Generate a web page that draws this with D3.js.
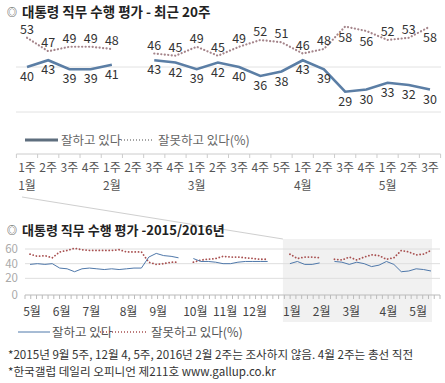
<!DOCTYPE html>
<html>
<head>
<meta charset="utf-8">
<title>대통령 직무 수행 평가</title>
<script src="https://cdn.jsdelivr.net/npm/d3@7"></script>
<style>
  body { margin: 0; background: #fff; }
  svg text { font-family: "Noto Sans CJK KR", "Noto Sans", sans-serif; }
</style>
</head>
<body>
<svg id="chart" width="445" height="383"></svg>
<script>
// ---- data: recent 20 weeks (2016) ----
const weekLabels = ['1주','2주','3주','4주','1주','2주','3주','4주','1주','2주','3주','4주','5주','1주','2주','3주','4주','1주','2주','3주'];
const monthLabels = [{i: 0, t: '1월'}, {i: 4, t: '2월'}, {i: 8, t: '3월'}, {i: 13, t: '4월'}, {i: 17, t: '5월'}];
const goodRecent = [40, 43, 39, 39, 41, null, 43, 42, 39, 42, 40, 36, 38, 43, 39, 29, 30, 33, 32, 30];
const badRecent  = [53, 47, 49, 49, 48, null, 46, 45, 49, 45, 49, 52, 51, 46, 48, 58, 56, 52, 53, 58];

// ---- data: weekly 2015/05 - 2016/05 (55 weeks) ----
const good2015 = [39, 40, 39, 40, 34, 33, 29, 33, 34, 33, 32, 33, 32, 33, 34, 34, 49, 54, 51, 50, 48, null,
                  47, 43, 43, 42, 40, 40, 42, 43, 43, 43, 43, null, null];
const bad2015  = [53, 50, 51, 48, 56, 58, 61, 59, 58, 58, 58, 58, 59, 56, 56, 56, 42, 39, 40, 42, 42, null,
                  42, 45, 46, 47, 50, 49, 49, 48, 47, 46, 46, null, null];
const goodAll = good2015.concat(goodRecent);
const badAll = bad2015.concat(badRecent);
const longMonths = [{i: 0, t: '5월'}, {i: 4, t: '6월'}, {i: 8, t: '7월'}, {i: 13, t: '8월'}, {i: 17, t: '9월'},
                    {i: 22, t: '10월'}, {i: 26, t: '11월'}, {i: 30, t: '12월'}, {i: 35, t: '1월'}, {i: 39, t: '2월'},
                    {i: 43, t: '3월'}, {i: 48, t: '4월'}, {i: 52, t: '5월'}];
const yTicksLong = [0, 20, 40, 60];

const notes = ['*2015년 9월 5주, 12월 4, 5주, 2016년 2월 2주는 조사하지 않음. 4월 2주는 총선 직전',
               '*한국갤럽 데일리 오피니언 제211호 www.gallup.co.kr'];

const svg = d3.select('#chart');
const goodColor = '#5b7ea5', badColor = '#a5858b';

// ================= top chart =================
svg.append('text').attr('x', 7).attr('y', 16).attr('font-size', 10).attr('fill', '#333').text('◎');
svg.append('text').attr('x', 22).attr('y', 17).attr('font-size', 13.5).attr('font-weight', 'bold')
  .attr('fill', '#222').text('대통령 직무 수행 평가 - 최근 20주');

const x = d3.scaleBand().domain(d3.range(20)).range([16.4, 440.6]);
const cx = i => x(i) + x.bandwidth() / 2;
const y = d3.scaleLinear().domain([20, 60]).range([112, 22]);

svg.append('g').selectAll('line').data([20, 40]).join('line')
  .attr('x1', 16).attr('x2', 441).attr('y1', d => y(d)).attr('y2', d => y(d))
  .attr('stroke', '#e2e2e2');

const lineTop = d3.line().defined(d => d != null).x((d, i) => cx(i)).y(d => y(d));

svg.append('path').datum(badRecent).attr('d', lineTop)
  .attr('fill', 'none').attr('stroke', badColor).attr('stroke-width', 2.2)
  .attr('stroke-linecap', 'round').attr('stroke-dasharray', '0.1,3.4');
svg.append('path').datum(goodRecent).attr('d', lineTop)
  .attr('fill', 'none').attr('stroke', goodColor).attr('stroke-width', 2.6);

svg.append('g').selectAll('text').data(goodRecent.map((v, i) => ({v, i})).filter(d => d.v != null)).join('text')
  .attr('x', d => cx(d.i)).attr('y', d => y(d.v) + 14).attr('text-anchor', 'middle')
  .attr('font-size', 12.5).attr('fill', '#333').text(d => d.v);
svg.append('g').selectAll('text').data(badRecent.map((v, i) => ({v, i})).filter(d => d.v != null)).join('text')
  .attr('x', d => cx(d.i)).attr('y', d => d.v >= 55 ? y(d.v) + 15 : y(d.v) - 4).attr('text-anchor', 'middle')
  .attr('font-size', 12.5).attr('fill', '#333').text(d => d.v);

// legend
const legTop = svg.append('g').attr('transform', 'translate(0,140)');
legTop.append('line').attr('x1', 25).attr('x2', 58).attr('stroke', '#5e6e7e').attr('stroke-width', 3);
legTop.append('text').attr('x', 61).attr('y', 4.5).attr('font-size', 12.5).attr('fill', '#666').text('잘하고 있다');
legTop.append('line').attr('x1', 121).attr('x2', 153).attr('stroke', '#888').attr('stroke-width', 1.3)
  .attr('stroke-dasharray', '1,2');
legTop.append('text').attr('x', 158).attr('y', 4.5).attr('font-size', 12.5).attr('fill', '#666').text('잘못하고 있다(%)');

// category axis
const axTop = svg.append('g').attr('transform', 'translate(0,154)');
axTop.append('line').attr('x1', 16.4).attr('x2', 440.6).attr('stroke', '#ccc');
axTop.selectAll('line.t').data(d3.range(21)).join('line').attr('class', 't')
  .attr('x1', i => 16.4 + i * x.step()).attr('x2', i => 16.4 + i * x.step())
  .attr('y1', 0).attr('y2', 4).attr('stroke', '#ccc');
axTop.selectAll('text.w').data(weekLabels).join('text').attr('class', 'w')
  .attr('x', (d, i) => cx(i)).attr('y', 18).attr('text-anchor', 'middle')
  .attr('font-size', 12).attr('fill', '#555').text(d => d);
axTop.selectAll('text.m').data(monthLabels).join('text').attr('class', 'm')
  .attr('x', d => cx(d.i)).attr('y', 36).attr('text-anchor', 'middle')
  .attr('font-size', 12).attr('fill', '#555').text(d => d.t);

// ================= bottom chart =================
const x2 = d3.scaleLinear().domain([0, 54]).range([30, 431]);
const y2 = d3.scaleLinear().domain([0, 60]).range([293, 249]);

const shadeX0 = x2(35) - 7, shadeX1 = x2(54) + 1, shadeY0 = 239, shadeY1 = 322;
svg.append('rect').attr('x', shadeX0).attr('y', shadeY0)
  .attr('width', shadeX1 - shadeX0).attr('height', shadeY1 - shadeY0).attr('fill', '#f1f1f1');

// connector from the top chart to the highlighted period
svg.append('line').attr('x1', cx(0) - 5).attr('y1', 197).attr('x2', shadeX0).attr('y2', shadeY0)
  .attr('stroke', '#cfcfcf').attr('stroke-width', 1);

svg.append('text').attr('x', 7).attr('y', 234).attr('font-size', 10).attr('fill', '#333').text('◎');
svg.append('text').attr('x', 22).attr('y', 235).attr('font-size', 13).attr('font-weight', 'bold')
  .attr('fill', '#222').text('대통령 직무 수행 평가 -2015/2016년');

svg.append('g').selectAll('line').data(yTicksLong.filter(d => d > 0)).join('line')
  .attr('x1', 25).attr('x2', 440).attr('y1', d => y2(d)).attr('y2', d => y2(d))
  .attr('stroke', '#dedede');
svg.append('g').selectAll('text').data(yTicksLong).join('text')
  .attr('x', 18).attr('y', d => y2(d) + (d === 0 ? 6 : 4)).attr('text-anchor', 'end')
  .attr('font-size', 11.5).attr('fill', '#aaa').text(d => d);

const ax2 = svg.append('g').attr('transform', 'translate(0,295)');
const tickScale = d3.scaleLinear().domain([0, 72]).range([25, 440]);
ax2.append('line').attr('x1', 25).attr('x2', 440).attr('stroke', '#bbb');
ax2.selectAll('line.t').data(d3.range(73)).join('line').attr('class', 't')
  .attr('x1', d => tickScale(d)).attr('x2', d => tickScale(d)).attr('y1', 0).attr('y2', 4)
  .attr('stroke', '#bbb');
ax2.selectAll('text').data(longMonths).join('text')
  .attr('x', d => x2(d.i) + 2).attr('y', 21).attr('text-anchor', 'middle')
  .attr('font-size', 12).attr('fill', '#444').text(d => d.t);

const line2 = d3.line().defined(d => d != null).x((d, i) => x2(i)).y(d => y2(d));
svg.append('path').datum(badAll).attr('d', line2)
  .attr('fill', 'none').attr('stroke', '#a85050').attr('stroke-width', 1.8)
  .attr('stroke-linecap', 'round').attr('stroke-dasharray', '0.1,3.2');
svg.append('path').datum(goodAll).attr('d', line2)
  .attr('fill', 'none').attr('stroke', '#4f78aa').attr('stroke-width', 1);

const leg2 = svg.append('g').attr('transform', 'translate(0,332)');
leg2.append('line').attr('x1', 18).attr('x2', 50).attr('stroke', '#4f78aa').attr('stroke-width', 1);
leg2.append('text').attr('x', 52).attr('y', 4.5).attr('font-size', 12.5).attr('fill', '#555').text('잘하고 있다');
leg2.append('line').attr('x1', 100).attr('x2', 147).attr('stroke', '#a85050').attr('stroke-width', 1.3)
  .attr('stroke-dasharray', '1,2');
leg2.append('text').attr('x', 151).attr('y', 4.5).attr('font-size', 12.5).attr('fill', '#555').text('잘못하고 있다(%)');

svg.append('g').selectAll('text').data(notes).join('text')
  .attr('x', 8).attr('y', (d, i) => 359 + i * 17).attr('font-size', 11.6).attr('fill', '#333')
  .text(d => d);
</script>
</body>
</html>
